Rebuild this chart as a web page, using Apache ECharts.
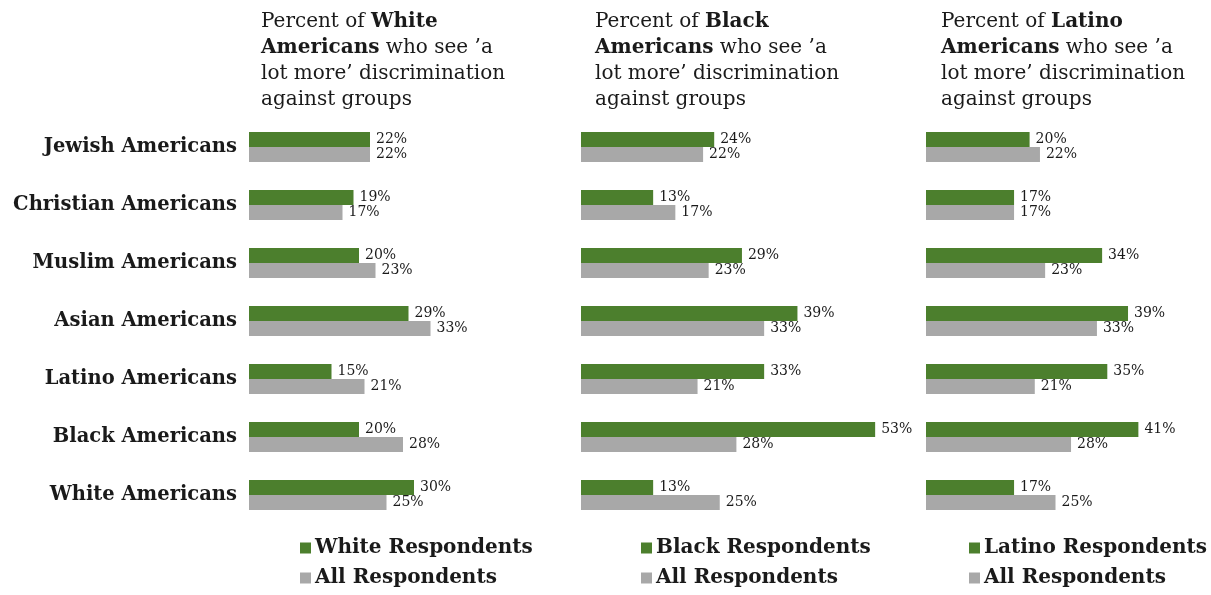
<!DOCTYPE html>
<html>
<head>
<meta charset="utf-8">
<style>
  html, body { margin: 0; padding: 0; background: #ffffff; }
  #chart { width: 1211px; height: 595px; }
</style>
<script src="https://cdn.jsdelivr.net/npm/echarts@6/dist/echarts.min.js"></script>
</head>
<body>
<div id="chart"></div>
<script>
// Groups asked about, top to bottom
const categories = ['Jewish Americans', 'Christian Americans', 'Muslim Americans', 'Asian Americans', 'Latino Americans', 'Black Americans', 'White Americans'];

// Share seeing "a lot more" discrimination, percent
const allRespondents    = [22, 17, 23, 33, 21, 28, 25];
const whiteRespondents  = [22, 19, 20, 29, 15, 20, 30];
const blackRespondents  = [24, 13, 29, 39, 33, 53, 13];
const latinoRespondents = [20, 17, 34, 39, 35, 41, 17];

const panelGroups = ['White', 'Black', 'Latino'];
const panelSeries = [whiteRespondents, blackRespondents, latinoRespondents];

const GREEN = '#4c7f2d';
const GREY = '#a8a8a8';
const SERIF = '"DejaVu Serif", "Liberation Serif", serif';
const INK = '#1a1a1a';

// panel layout: bar origin, px width, axis max
const panels = [
  { left: 249, width: 220, max: 40, titleLeft: 261, legendLeft: 300 },
  { left: 581, width: 333, max: 60, titleLeft: 595, legendLeft: 641 },
  { left: 926, width: 259, max: 50, titleLeft: 941, legendLeft: 969 }
];

const grids = [], xAxes = [], yAxes = [], series = [], titles = [], legends = [];

panels.forEach((p, i) => {
  grids.push({ left: p.left, width: p.width, top: 118, height: 406 });
  xAxes.push({ type: 'value', gridIndex: i, min: 0, max: p.max, show: false });
  yAxes.push({
    type: 'category', gridIndex: i, data: categories, inverse: true,
    axisLine: { show: false }, axisTick: { show: false }, splitLine: { show: false },
    axisLabel: i === 0 ? {
      show: true, margin: 12, color: INK, fontFamily: SERIF,
      fontWeight: 'bold', fontSize: 19.5
    } : { show: false }
  });
  const label = {
    show: true, position: 'right', distance: 6, formatter: '{c}%',
    fontFamily: SERIF, fontSize: 14, color: INK
  };
  const groupName = panelGroups[i] + ' Respondents';
  series.push({
    name: groupName, type: 'bar', xAxisIndex: i, yAxisIndex: i,
    data: panelSeries[i], barWidth: 15, barGap: '0%',
    itemStyle: { color: GREEN }, label: label
  });
  series.push({
    name: 'All Respondents', type: 'bar', xAxisIndex: i, yAxisIndex: i,
    data: allRespondents, barWidth: 15, barGap: '0%',
    itemStyle: { color: GREY }, label: label
  });
  titles.push({
    left: p.titleLeft - 5, top: 4,
    text: 'Percent of {b|' + panelGroups[i] + '}\n{b|Americans} who see \u2019a\nlot more\u2019 discrimination\nagainst groups',
    textStyle: {
      fontFamily: SERIF, fontSize: 20, fontWeight: 'normal', color: INK, lineHeight: 26,
      rich: { b: { fontFamily: SERIF, fontSize: 20, fontWeight: 'bold', color: INK, lineHeight: 26 } }
    }
  });
  legends.push({
    left: p.legendLeft, top: 538, orient: 'vertical', icon: 'rect', padding: 0,
    itemWidth: 11, itemHeight: 11, itemGap: 10,
    data: [groupName, 'All Respondents'],
    selectedMode: false,
    textStyle: { fontFamily: SERIF, fontSize: 20, fontWeight: 'bold', color: INK, lineHeight: 20, padding: [0, 0, 0, -1] }
  });
});

const chart = echarts.init(document.getElementById('chart'), null, { renderer: 'canvas' });
chart.setOption({
  backgroundColor: '#ffffff',
  animation: false,
  title: titles,
  legend: legends,
  grid: grids,
  xAxis: xAxes,
  yAxis: yAxes,
  series: series
});
</script>
</body>
</html>
